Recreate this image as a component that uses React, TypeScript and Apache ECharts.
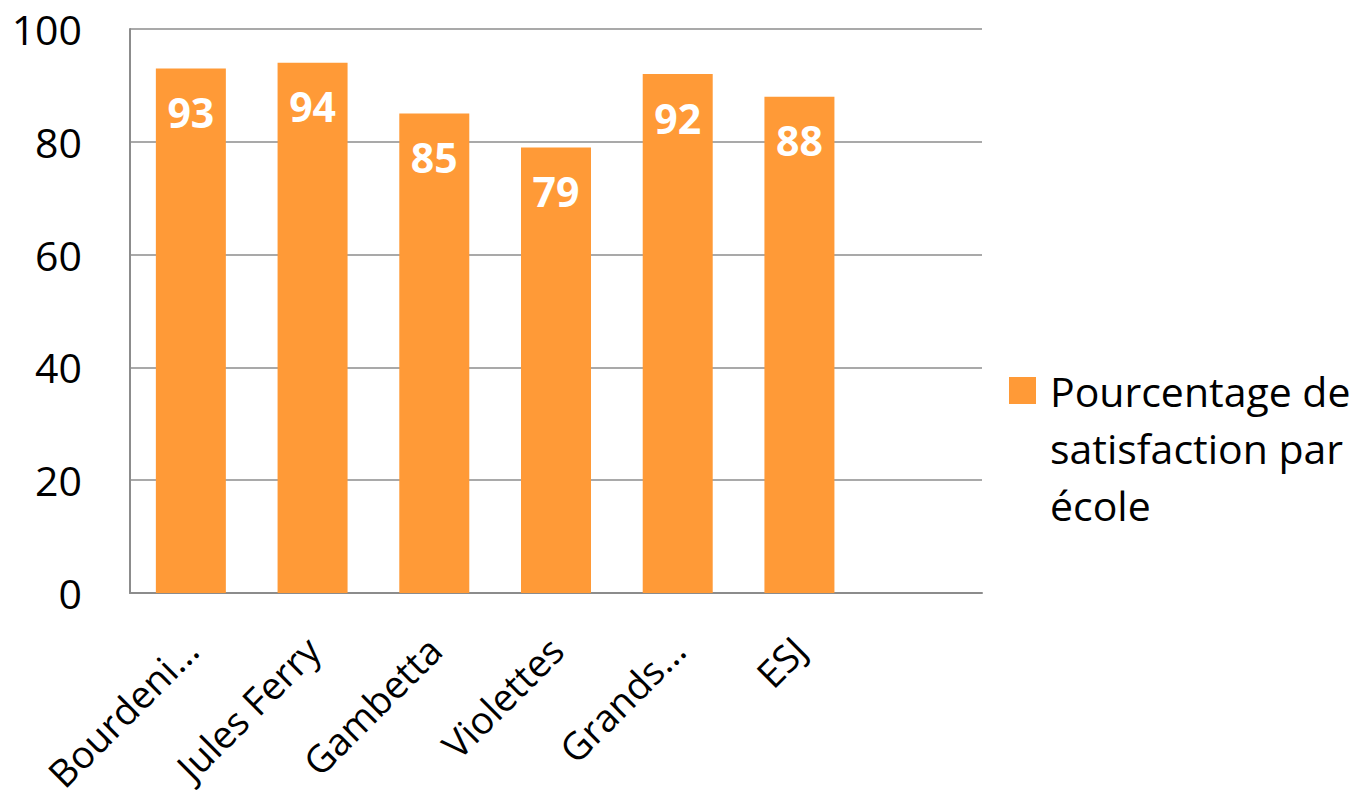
import React, { useEffect, useRef } from "react";
import * as echarts from "echarts";

const categories = ["Bourdeni…", "Jules Ferry", "Gambetta", "Violettes", "Grands…", "ESJ", ""];
const values = [93, 94, 85, 79, 92, 88, null];
const seriesName = "Pourcentage de satisfaction par école";
const legendLines = ["Pourcentage de", "satisfaction par", "école"];
const yTicks = { min: 0, max: 100, interval: 20 };

const FONT = "Open Sans";
const GRAY = "#8c8c8c";
const ORANGE = "#FF9A37";
const FS = 41;

export default function App() {
  const ref = useRef<HTMLDivElement>(null);
  useEffect(() => {
    if (!ref.current) return;
    const chart = echarts.init(ref.current, undefined, { renderer: "svg" });
    chart.setOption({
      animation: false,
      backgroundColor: "#ffffff",
      textStyle: { fontFamily: FONT },
      grid: { left: 130, right: 389, top: 29, bottom: 209, containLabel: false },
      legend: {
        orient: "vertical",
        left: 1009,
        top: 248,
        padding: 0,
        itemWidth: 27,
        itemHeight: 27,
        itemGap: 0,
        icon: "rect",
        data: [seriesName],
        formatter: () => "\n\n" + legendLines.map((l) => "{t|" + l + "}").join("\n"),
        textStyle: {
          fontFamily: FONT,
          fontSize: FS,
          color: "#000",
          lineHeight: 57,
          rich: {
            t: {
              fontFamily: FONT,
              fontSize: FS,
              color: "#000",
              lineHeight: 57,
              padding: [0, 0, 0, 9],
            },
          },
        },
      },
      xAxis: {
        type: "category",
        data: categories,
        axisTick: { show: false },
        axisLine: { lineStyle: { color: GRAY, width: 2 } },
        axisLabel: {
          rotate: 45,
          interval: 0,
          margin: 50,
          fontFamily: FONT,
          fontSize: 38,
          color: "#000",
        },
      },
      yAxis: {
        type: "value",
        min: yTicks.min,
        max: yTicks.max,
        interval: yTicks.interval,
        axisLine: { show: true, lineStyle: { color: GRAY, width: 2 } },
        axisTick: { show: false },
        splitLine: { lineStyle: { color: GRAY, width: 1.5 } },
        axisLabel: { margin: 48, fontFamily: FONT, fontSize: FS, color: "#000" },
      },
      series: [
        {
          name: seriesName,
          type: "bar",
          data: values,
          barWidth: 70,
          itemStyle: { color: ORANGE },
          label: {
            show: true,
            position: "insideTop",
            distance: 23,
            color: "#fff",
            fontFamily: FONT,
            fontWeight: "bold",
            fontSize: FS,
          },
        },
      ],
    });
    return () => chart.dispose();
  }, []);
  return (
    <div
      ref={ref}
      style={{ position: "absolute", left: 0, top: 0, width: 1371, height: 802 }}
    />
  );
}
